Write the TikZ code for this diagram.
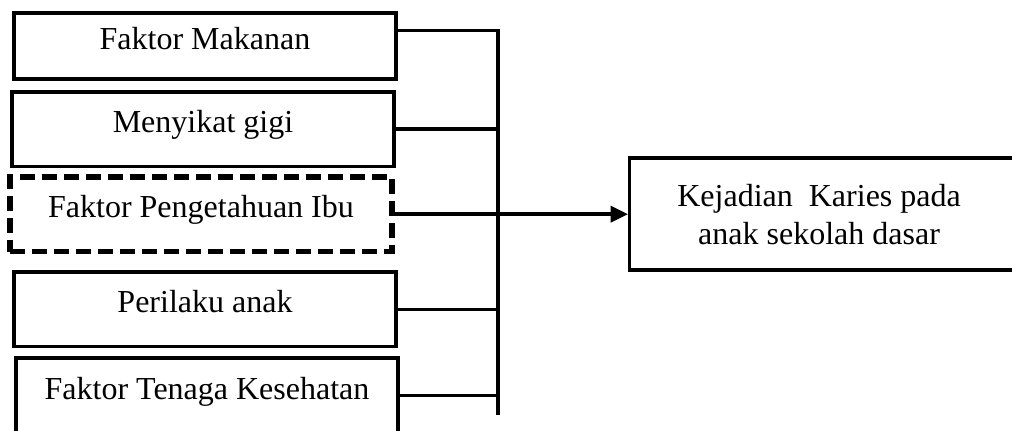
\documentclass[tikz,border=0pt]{standalone}
\usepackage{fontspec}
\setmainfont{Liberation Serif}
\usetikzlibrary{positioning,arrows.meta}

\begin{document}
\begin{tikzpicture}[x=0.75pt,y=-0.75pt,
    faktor/.style={draw,line width=2.6pt,minimum width=286.5pt,minimum height=56pt,
      inner sep=0pt,text height=16.5pt,text depth=11pt,font=\fontsize{24}{28.5}\selectfont},
    ragu/.style={faktor,line width=4pt,dash pattern=on 11pt off 5.5pt},
    hasil/.style={draw,line width=2.6pt,minimum width=300pt,minimum height=84pt,
      align=center,font=\fontsize{24}{28.5}\selectfont},
    garis/.style={line width=2.6pt}]
      \useasboundingbox (0,0) rectangle (1012,430);
      \clip (0,0) rectangle (1012,430);

      \node (makanan) [faktor,minimum height=49.5pt] at (205,46) {Faktor Makanan};
      \node (sikat) [faktor,below=7pt of makanan,xshift=-1.5pt] {Menyikat gigi};
      \node (ibu) [ragu,below=4.5pt of sikat,xshift=-1.5pt] {Faktor Pengetahuan Ibu};
      \node (perilaku) [faktor,below=12pt of ibu,xshift=3pt] {Perilaku anak};
      \node (tenaga) [faktor,below=6pt of perilaku,xshift=1.5pt] {Faktor Tenaga Kesehatan};
      \node (karies) [hasil,right=175pt of ibu]
        {Kejadian\ \ Karies pada\hspace*{16pt}\\anak sekolah dasar\hspace*{16pt}};

      \coordinate (bawah) at (498,415);

      \draw[garis] ([yshift=11.5pt]makanan.east) -| (bawah);
      \draw[garis] (sikat.east) -- (sikat.east -| bawah);
      \draw[garis] (perilaku.east) -- (perilaku.east -| bawah);
      \draw[garis] (tenaga.east) -- (tenaga.east -| bawah);
      \draw[garis,-{Triangle[length=13pt,width=12pt]}] (ibu.east) -- (karies.west);

    \end{tikzpicture}
\end{document}
